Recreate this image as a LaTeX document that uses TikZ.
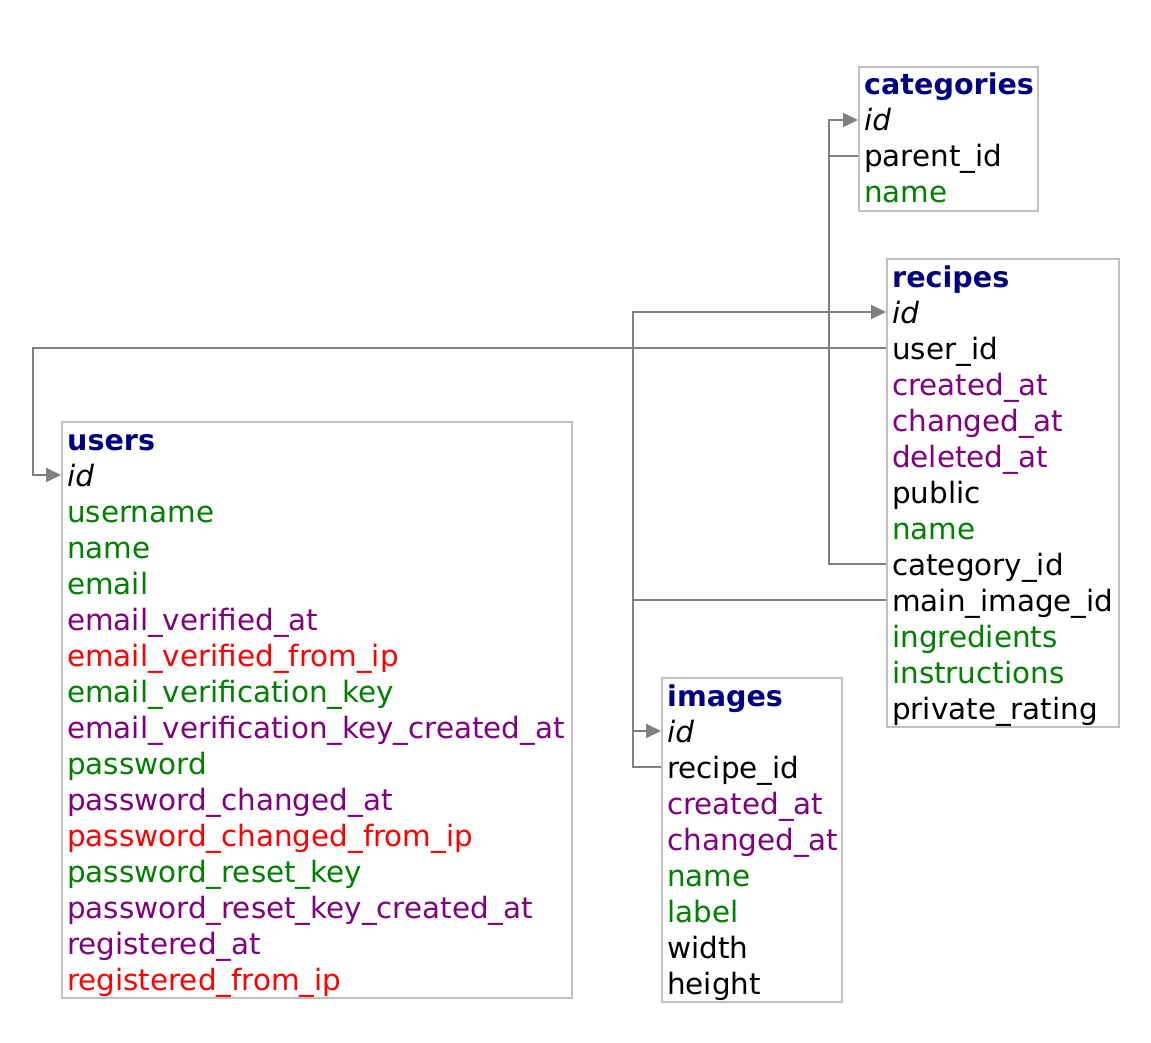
\documentclass[tikz,border=0pt]{standalone}
\usepackage{fontspec}
\setmainfont{DejaVu Sans}
\usetikzlibrary{arrows.meta}
\definecolor{hdr}{HTML}{000080}
\definecolor{grn}{HTML}{007F00}
\definecolor{prp}{HTML}{800080}
\definecolor{rd}{HTML}{FF0000}
\definecolor{boxgray}{HTML}{C0C0C0}
\definecolor{linegray}{HTML}{808080}
\tikzset{
  tbl/.style={draw=boxgray, line width=1.6pt, anchor=north west, inner sep=0pt},
  fld/.style={anchor=west, inner xsep=6pt, inner ysep=0pt, text height=24pt, text depth=2pt, font=\fontsize{29.4}{34}\selectfont},
  head/.style={fld, text=hdr, font=\fontsize{28.6}{34}\selectfont\bfseries},
  pk/.style={fld, font=\fontsize{29.4}{34}\selectfont\itshape},
  gf/.style={fld, text=grn},
  pf/.style={fld, text=prp},
  rf/.style={fld, text=rd},
  bf/.style={fld, text=black},
  conn/.style={draw=linegray, line width=2pt, -{Triangle[length=15pt,width=14pt]}},
  plain/.style={draw=linegray, line width=2pt}
}
\begin{document}
\begin{tikzpicture}[x=1pt,y=-1pt]
\useasboundingbox (0,0) rectangle (1151,1043);
% categories
\node[tbl, minimum width=179pt, minimum height=144pt] (categories) at (858,66) {};
\node[head] (cat-h) at (858,84) {categories};
\node[pk] (cat-id) at (858,120) {id};
\node[bf] (cat-parent_id) at (858,156) {parent\_id};
\node[gf] (cat-name) at (858,192) {name};
% recipes
\node[tbl, minimum width=232pt, minimum height=468pt] (recipes) at (886,258) {};
\node[head] (rec-h) at (886,276) {recipes};
\node[pk] (rec-id) at (886,312) {id};
\node[bf] (rec-user_id) at (886,348) {user\_id};
\node[pf] (rec-created_at) at (886,384) {created\_at};
\node[pf] (rec-changed_at) at (886,420) {changed\_at};
\node[pf] (rec-deleted_at) at (886,456) {deleted\_at};
\node[bf] (rec-public) at (886,492) {public};
\node[gf] (rec-name) at (886,528) {name};
\node[bf] (rec-category_id) at (886,564) {category\_id};
\node[bf] (rec-main_image_id) at (886,600) {main\_image\_id};
\node[gf] (rec-ingredients) at (886,636) {ingredients};
\node[gf] (rec-instructions) at (886,672) {instructions};
\node[bf] (rec-private_rating) at (886,708) {private\_rating};
% users
\node[tbl, minimum width=510pt, minimum height=576pt] (users) at (61,421) {};
\node[head] (usr-h) at (61,439) {users};
\node[pk] (usr-id) at (61,475) {id};
\node[gf] (usr-username) at (61,511) {username};
\node[gf] (usr-name) at (61,547) {name};
\node[gf] (usr-email) at (61,583) {email};
\node[pf] (usr-evat) at (61,619) {email\_verified\_at};
\node[rf] (usr-evfip) at (61,655) {email\_verified\_from\_ip};
\node[gf] (usr-evk) at (61,691) {email\_verification\_key};
\node[pf] (usr-evkca) at (61,727) {email\_verification\_key\_created\_at};
\node[gf] (usr-pw) at (61,763) {password};
\node[pf] (usr-pwca) at (61,799) {password\_changed\_at};
\node[rf] (usr-pwcfip) at (61,835) {password\_changed\_from\_ip};
\node[gf] (usr-prk) at (61,871) {password\_reset\_key};
\node[pf] (usr-prkca) at (61,907) {password\_reset\_key\_created\_at};
\node[pf] (usr-rat) at (61,943) {registered\_at};
\node[rf] (usr-rfip) at (61,979) {registered\_from\_ip};
% images
\node[tbl, minimum width=180pt, minimum height=324pt] (images) at (661,677) {};
\node[head] (img-h) at (661,695) {images};
\node[pk] (img-id) at (661,731) {id};
\node[bf] (img-recipe_id) at (661,767) {recipe\_id};
\node[pf] (img-created_at) at (661,803) {created\_at};
\node[pf] (img-changed_at) at (661,839) {changed\_at};
\node[gf] (img-name) at (661,875) {name};
\node[gf] (img-label) at (661,911) {label};
\node[bf] (img-width) at (661,947) {width};
\node[bf] (img-height) at (661,983) {height};
% connectors
\draw[conn] (rec-category_id.west) -- ++(-57,0) |- (cat-id.west);
\draw[plain] (cat-parent_id.west) -- ++(-29,0);
\draw[conn] (rec-user_id.west) -- ++(-853,0) |- (usr-id.west);
\draw[conn] (rec-main_image_id.west) -- ++(-253,0) |- (img-id.west);
\draw[conn] (img-recipe_id.west) -- ++(-28,0) |- (rec-id.west);
\end{tikzpicture}
\end{document}
